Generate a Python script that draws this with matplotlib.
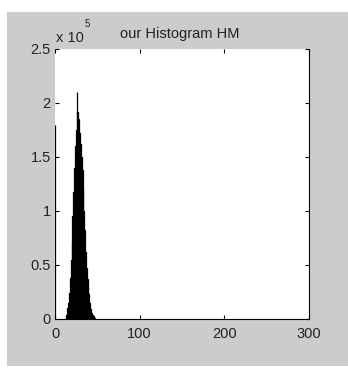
import numpy as np
import matplotlib
matplotlib.use("Agg")
import matplotlib.pyplot as plt
from matplotlib.patches import Rectangle

# Data: histogram counts per grey level
levels = [0, 14, 15, 16, 17, 18, 19, 20, 21, 22, 23, 24, 25, 26, 27, 28, 29, 30,
          31, 32, 33, 34, 35, 36, 37, 38, 39, 40, 41, 42, 43, 44, 45, 46, 47]
counts = [180000, 4000, 10000, 15000, 24000, 38000, 55000, 72000, 95000, 118000,
          140000, 160000, 175000, 210000, 192000, 185000, 172000, 162000, 150000,
          138000, 120000, 100000, 82000, 62000, 47000, 37000, 30000, 23000, 15000,
          9000, 6000, 4000, 2500, 1000, 500]
xticks = [0, 100, 200, 300]
yticks = [0, 50000, 100000, 150000, 200000, 250000]
ytick_labels = ["0", "0.5", "1", "1.5", "2", "2.5"]
title = "our Histogram HM"

plt.rcParams['font.family'] = ['Liberation Sans', 'DejaVu Sans']
W, H = 348, 368
FS = 10.5
fig = plt.figure(figsize=(W / 100, H / 100), dpi=100, facecolor='white')
fig.patches.append(Rectangle((7 / W, 2 / H), (W - 7) / W, (H - 14) / H,
                             transform=fig.transFigure, facecolor='#cccccc',
                             edgecolor='none', zorder=-10))

ax = fig.add_axes([55 / W, 1 - 319 / H, 254 / W, 270 / H], zorder=1)
ax.set_facecolor('white')
ax.bar(levels, counts, width=1.0, color='black', edgecolor='black', linewidth=0.9)
ax.set_xlim(0, 300)
ax.set_ylim(0, 250000)
ax.set_xticks(xticks)
ax.set_xticklabels([str(t) for t in xticks])
ax.set_yticks(yticks)
ax.set_yticklabels(ytick_labels)
ax.tick_params(direction='in', length=3, width=0.8, top=True, right=True,
               labelsize=FS, colors='black', labelcolor='#222222')
ax.tick_params(axis='x', pad=6)
ax.tick_params(axis='y', pad=3)
for s in ['top', 'left']:
    ax.spines[s].set_visible(False)
for s in ['bottom', 'right']:
    ax.spines[s].set_linewidth(0.8)
    ax.spines[s].set_color('black')

fig.text(180 / W, 1 - 38 / H, title, ha='center', va='baseline', fontsize=FS, color='#222222')
fig.text(56 / W, 1 - 41.5 / H, "x 10", ha='left', va='baseline', fontsize=FS, color='#222222')
fig.text(85 / W, 1 - 27 / H, "5", ha='left', va='baseline', fontsize=7, color='#222222')

fig.savefig("out.png", dpi=100, facecolor=fig.get_facecolor())
